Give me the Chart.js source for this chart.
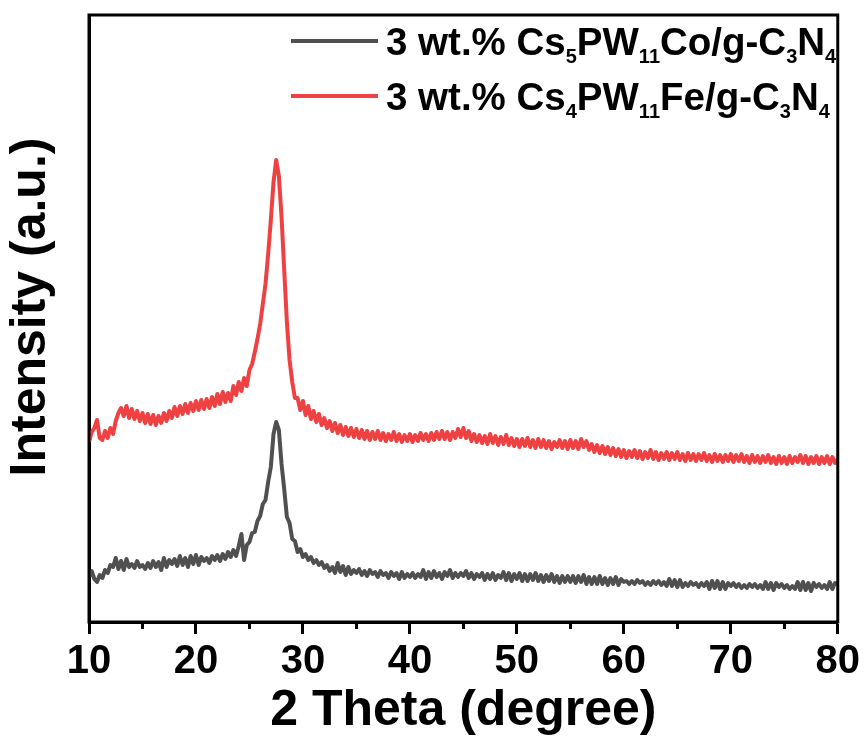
<!DOCTYPE html>
<html>
<head>
<meta charset="utf-8">
<script src="https://cdn.jsdelivr.net/npm/chart.js@4.4.1/dist/chart.umd.min.js"></script>
<style>
html,body{margin:0;padding:0;background:#fff;}
#c{display:block;}
</style>
</head>
<body>
<canvas id="c" width="864" height="740"></canvas>
<script>
// 2θ sampling (degrees)
const theta = [
10,10.25,10.5,10.75,11,11.25,11.5,11.75,12,12.25,12.5,12.75,13,13.25,13.5,13.75,14,14.25,14.5,14.75,
15,15.25,15.5,15.75,16,16.25,16.5,16.75,17,17.25,17.5,17.75,18,18.25,18.5,18.75,19,19.25,19.5,19.75,
20,20.25,20.5,20.75,21,21.25,21.5,21.75,22,22.25,22.5,22.75,23,23.25,23.5,23.75,24,24.25,24.5,24.75,
25,25.25,25.5,25.75,26,26.25,26.5,26.75,27,27.25,27.5,27.75,28,28.25,28.5,28.75,29,29.25,29.5,29.75,
30,30.25,30.5,30.75,31,31.25,31.5,31.75,32,32.25,32.5,32.75,33,33.25,33.5,33.75,34,34.25,34.5,34.75,
35,35.25,35.5,35.75,36,36.25,36.5,36.75,37,37.25,37.5,37.75,38,38.25,38.5,38.75,39,39.25,39.5,39.75,
40,40.25,40.5,40.75,41,41.25,41.5,41.75,42,42.25,42.5,42.75,43,43.25,43.5,43.75,44,44.25,44.5,44.75,
45,45.25,45.5,45.75,46,46.25,46.5,46.75,47,47.25,47.5,47.75,48,48.25,48.5,48.75,49,49.25,49.5,49.75,
50,50.25,50.5,50.75,51,51.25,51.5,51.75,52,52.25,52.5,52.75,53,53.25,53.5,53.75,54,54.25,54.5,54.75,
55,55.25,55.5,55.75,56,56.25,56.5,56.75,57,57.25,57.5,57.75,58,58.25,58.5,58.75,59,59.25,59.5,59.75,
60,60.25,60.5,60.75,61,61.25,61.5,61.75,62,62.25,62.5,62.75,63,63.25,63.5,63.75,64,64.25,64.5,64.75,
65,65.25,65.5,65.75,66,66.25,66.5,66.75,67,67.25,67.5,67.75,68,68.25,68.5,68.75,69,69.25,69.5,69.75,
70,70.25,70.5,70.75,71,71.25,71.5,71.75,72,72.25,72.5,72.75,73,73.25,73.5,73.75,74,74.25,74.5,74.75,
75,75.25,75.5,75.75,76,76.25,76.5,76.75,77,77.25,77.5,77.75,78,78.25,78.5,78.75,79,79.25,79.5,79.75,
80
];

// Intensity (a.u., offset-stacked as in the figure)
const coIntensity = [
45,51,43,40,47,44,52,49,57,55,64,53,61,52,63,55,58,54,61,55,
57,53,59,54,61,55,60,52,64,55,62,58,63,56,66,57,64,55,66,58,
67,57,65,61,64,59,66,62,67,61,68,63,70,65,72,66,76,88,62,77,
80,89,90,101,106,118,122,140,155,188,200,192,158,133,105,99,83,81,70,73,
65,68,62,65,59,62,57,60,54,57,51,55,49,59,50,56,47,55,48,52,
49,53,47,51,46,52,48,50,45,51,47,49,44,50,46,49,43,50,44,48,
45,49,44,48,45,52,43,50,44,51,45,49,43,50,46,52,44,49,45,49,
46,51,44,49,43,48,45,49,42,48,43,49,42,47,44,50,42,49,41,48,
43,49,41,48,41,48,42,49,41,47,40,47,41,48,40,46,39,46,40,46,
40,46,39,46,40,47,38,45,38,45,38,46,38,44,37,44,38,45,37,43,
40,41,38,41,38,42,39,41,37,40,37,41,38,41,37,40,36,43,36,42,
35,42,35,39,36,40,37,39,35,39,36,40,33,41,34,41,33,40,33,39,
36,39,35,38,34,37,34,38,35,38,34,37,33,40,33,39,32,39,35,38,
34,37,33,36,33,40,32,40,32,39,31,39,35,38,34,37,33,40,33,39,
38
];

const feIntensity = [
180,190,194,202,184,182,191,184,194,188,201,209,214,206,216,204,213,203,211,201,
209,199,208,198,207,197,206,199,209,201,211,204,215,206,216,208,218,209,219,211,
221,212,222,213,223,214,225,216,228,218,230,220,229,221,236,227,240,231,244,236,
252,258,270,283,298,318,338,368,402,440,462,446,405,352,300,262,240,224,224,212,
221,207,216,203,211,200,208,197,204,194,201,191,199,189,197,187,195,186,194,185,
193,184,192,183,191,182,190,183,191,182,189,181,188,182,190,181,188,180,187,181,
188,180,187,181,189,182,188,181,189,182,190,183,191,183,190,182,190,184,193,185,
194,184,191,181,188,180,187,179,186,178,188,179,186,177,185,178,187,177,184,176,
183,175,183,176,184,175,182,174,183,175,182,174,181,173,180,175,182,174,181,173,
182,174,181,173,183,175,181,172,178,170,177,169,176,168,175,167,174,166,173,165,
172,164,171,165,172,164,171,163,170,164,172,163,170,162,169,163,170,162,169,163,
170,162,168,161,169,162,168,161,168,162,169,161,167,160,168,161,167,160,167,161,
168,160,167,161,168,160,166,159,167,160,166,159,166,160,167,159,165,158,166,159,
165,158,166,159,165,160,167,159,166,158,165,159,166,158,165,159,166,158,165,159,
163
];

const seriesLabels = ['3 wt.% Cs₅PW₁₁Co/g-C₃N₄', '3 wt.% Cs₄PW₁₁Fe/g-C₃N₄'];
// legend label pieces: [text, isSubscript]
const legendPartsCo = [['3 wt.% Cs',0],['5',1],['PW',0],['11',1],['Co/g-C',0],['3',1],['N',0],['4',1]];
const legendPartsFe = [['3 wt.% Cs',0],['4',1],['PW',0],['11',1],['Fe/g-C',0],['3',1],['N',0],['4',1]];
const xMajorTicks = [10,20,30,40,50,60,70,80];
const xMinorTicks = [15,25,35,45,55,65,75];
const xTitle = '2 Theta (degree)';
const yTitle = 'Intensity (a.u.)';

const colCo = '#505050';
const colFe = '#ef4141';
const FONT = "'Liberation Sans', Arial, sans-serif";

const toXY = (xs, ys) => xs.map((x, i) => ({x: x, y: ys[i]}));

const framePlugin = {
  id: 'frame',
  afterDraw(chart) {
    const {ctx, chartArea: a, scales} = chart;
    ctx.save();
    ctx.strokeStyle = '#000';
    ctx.lineWidth = 3;
    ctx.strokeRect(a.left, a.top, a.right - a.left, a.bottom - a.top);
    // minor ticks
    ctx.beginPath();
    xMinorTicks.forEach(v => {
      const px = Math.round(scales.x.getPixelForValue(v)) + 0.5;
      ctx.moveTo(px, a.bottom);
      ctx.lineTo(px, a.bottom + 7);
    });
    ctx.stroke();
    // y-axis title (placed slightly above axis centre as in the figure)
    ctx.save();
    ctx.translate(31, 307);
    ctx.rotate(-Math.PI / 2);
    ctx.font = 'bold 50px ' + FONT;
    ctx.fillStyle = '#000';
    ctx.textAlign = 'center';
    ctx.textBaseline = 'middle';
    ctx.fillText(yTitle, 0, 0);
    ctx.restore();
    // legend
    const rows = [[legendPartsCo, colCo, 41], [legendPartsFe, colFe, 96]];
    const mainSize = 38.5, subSize = 20;
    rows.forEach(([parts, col, y]) => {
      ctx.strokeStyle = col;
      ctx.lineWidth = 4;
      ctx.beginPath();
      ctx.moveTo(291, y);
      ctx.lineTo(378, y);
      ctx.stroke();
      let x = 386;
      const base = y + 14;
      ctx.fillStyle = '#000';
      ctx.textBaseline = 'alphabetic';
      ctx.textAlign = 'left';
      parts.forEach(([t, sub]) => {
        ctx.font = 'bold ' + (sub ? subSize : mainSize) + 'px ' + FONT;
        ctx.fillText(t, x, sub ? base + 8 : base);
        x += ctx.measureText(t).width;
      });
    });
    ctx.restore();
  }
};

new Chart(document.getElementById('c'), {
  type: 'line',
  data: {
    datasets: [
      {label: seriesLabels[0], data: toXY(theta, coIntensity), borderColor: colCo, borderWidth: 4, pointRadius: 0, tension: 0, borderJoinStyle: 'round', fill: false},
      {label: seriesLabels[1], data: toXY(theta, feIntensity), borderColor: colFe, borderWidth: 4, pointRadius: 0, tension: 0, borderJoinStyle: 'round', fill: false}
    ]
  },
  options: {
    responsive: false,
    animation: false,
    devicePixelRatio: 1,
    layout: {padding: {top: 15, right: 24, left: 0, bottom: 0}},
    plugins: {legend: {display: false}, tooltip: {enabled: false}},
    scales: {
      x: {
        type: 'linear', min: 10, max: 80,
        afterBuildTicks: s => { s.ticks = xMajorTicks.map(v => ({value: v})); },
        afterFit: s => { s.height = 118; },
        ticks: {color: '#000', font: {family: FONT, size: 40, weight: 'bold'}, padding: 4, maxRotation: 0, autoSkip: false},
        grid: {display: true, drawOnChartArea: false, drawTicks: true, tickLength: 12, tickWidth: 3, tickColor: '#000'},
        border: {display: true, color: '#000', width: 3},
        title: {display: true, text: xTitle, color: '#000', font: {family: FONT, size: 50, weight: 'bold', lineHeight: 1.0}, padding: {top: 0, bottom: 4}}
      },
      y: {
        min: 0, max: 607,
        afterFit: s => { s.width = 89; },
        ticks: {display: false},
        grid: {display: false, drawTicks: false},
        border: {display: true, color: '#000', width: 3},
        title: {display: false, text: yTitle}
      }
    }
  },
  plugins: [framePlugin]
});
</script>
</body>
</html>
